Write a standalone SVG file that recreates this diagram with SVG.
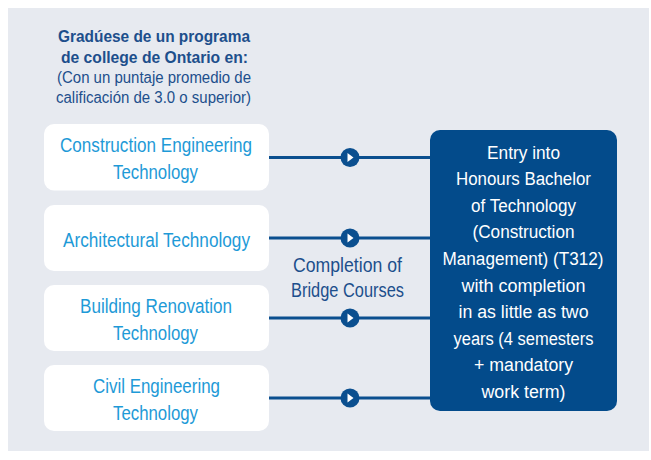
<svg xmlns="http://www.w3.org/2000/svg" xmlns:xlink="http://www.w3.org/1999/xlink" width="651" height="460" viewBox="0 0 651 460">
  <style>
    .t { font-family: "Liberation Sans", Arial, sans-serif; text-anchor: middle; }
    .title { font-size: 16px; font-weight: bold; fill: #1d4f8c; }
    .sub { font-size: 16px; fill: #1d4f8c; }
    .node { font-size: 20px; fill: #1e9ad7; }
    .mid { font-size: 20px; fill: #1d4f8c; }
    .goal { font-size: 18px; fill: #ffffff; }
    .box { fill: #ffffff; }
    .conn { stroke: #0b4f8f; stroke-width: 3; fill: none; }
  </style>
  <defs>
    <g id="play">
      <circle cx="0" cy="0" r="9.5" fill="#0b4f8f"/>
      <polygon points="-2.5,-4.5 3.5,0 -2.5,4.5" fill="#ffffff"/>
    </g>
  </defs>
  <rect x="8" y="8" width="641" height="443" fill="#e7eaf0"/>

  <g id="heading">
    <text class="t title" x="154" y="42" textLength="192" lengthAdjust="spacingAndGlyphs">Gradúese de un programa</text>
    <text class="t title" x="154.5" y="63" textLength="187" lengthAdjust="spacingAndGlyphs">de college de Ontario en:</text>
    <text class="t sub" x="154" y="83" textLength="194" lengthAdjust="spacingAndGlyphs">(Con un puntaje promedio de</text>
    <text class="t sub" x="153.5" y="103" textLength="195" lengthAdjust="spacingAndGlyphs">calificación de 3.0 o superior)</text>
  </g>

  <g id="connectors">
    <line class="conn" x1="269" y1="157.5" x2="432" y2="157.5"/>
    <line class="conn" x1="269" y1="238" x2="432" y2="238"/>
    <line class="conn" x1="269" y1="318" x2="432" y2="318"/>
    <line class="conn" x1="269" y1="398" x2="432" y2="398"/>
    <use xlink:href="#play" x="350" y="157.5"/>
    <use xlink:href="#play" x="350" y="238"/>
    <use xlink:href="#play" x="350" y="318"/>
    <use xlink:href="#play" x="350" y="398"/>
    <text class="t mid" x="347.5" y="272" textLength="109" lengthAdjust="spacingAndGlyphs">Completion of</text>
    <text class="t mid" x="347.5" y="297" textLength="113" lengthAdjust="spacingAndGlyphs">Bridge Courses</text>
  </g>

  <g id="node-construction">
    <rect class="box" x="44" y="124" width="225" height="66.5" rx="10"/>
    <text class="t node" x="156" y="152" textLength="192" lengthAdjust="spacingAndGlyphs">Construction Engineering</text>
    <text class="t node" x="155.5" y="178.5" textLength="85" lengthAdjust="spacingAndGlyphs">Technology</text>
  </g>

  <g id="node-architectural">
    <rect class="box" x="44" y="205" width="225" height="66" rx="10"/>
    <text class="t node" x="156.5" y="246.5" textLength="187" lengthAdjust="spacingAndGlyphs">Architectural Technology</text>
  </g>

  <g id="node-renovation">
    <rect class="box" x="44" y="285" width="225" height="66" rx="10"/>
    <text class="t node" x="156" y="313" textLength="152" lengthAdjust="spacingAndGlyphs">Building Renovation</text>
    <text class="t node" x="155.5" y="339.5" textLength="85" lengthAdjust="spacingAndGlyphs">Technology</text>
  </g>

  <g id="node-civil">
    <rect class="box" x="44" y="365" width="225" height="66" rx="10"/>
    <text class="t node" x="156.5" y="393" textLength="127" lengthAdjust="spacingAndGlyphs">Civil Engineering</text>
    <text class="t node" x="155.5" y="419.5" textLength="85" lengthAdjust="spacingAndGlyphs">Technology</text>
  </g>

  <g id="node-entry">
    <rect x="430" y="130" width="187" height="281" rx="10" fill="#034b8b"/>
    <text class="t goal" x="523.5" y="158.5" textLength="73" lengthAdjust="spacingAndGlyphs">Entry into</text>
    <text class="t goal" x="523.5" y="185" textLength="135" lengthAdjust="spacingAndGlyphs">Honours Bachelor</text>
    <text class="t goal" x="523.5" y="211.5" textLength="105" lengthAdjust="spacingAndGlyphs">of Technology</text>
    <text class="t goal" x="523.5" y="238" textLength="102" lengthAdjust="spacingAndGlyphs">(Construction</text>
    <text class="t goal" x="523" y="265" textLength="161" lengthAdjust="spacingAndGlyphs">Management) (T312)</text>
    <text class="t goal" x="523.5" y="291.5" textLength="124" lengthAdjust="spacingAndGlyphs">with completion</text>
    <text class="t goal" x="523.5" y="318" textLength="130" lengthAdjust="spacingAndGlyphs">in as little as two</text>
    <text class="t goal" x="523.5" y="344.5" textLength="140" lengthAdjust="spacingAndGlyphs">years (4 semesters</text>
    <text class="t goal" x="523.5" y="371" textLength="99" lengthAdjust="spacingAndGlyphs">+ mandatory</text>
    <text class="t goal" x="523.5" y="397.5" textLength="84" lengthAdjust="spacingAndGlyphs">work term)</text>
  </g>
</svg>
